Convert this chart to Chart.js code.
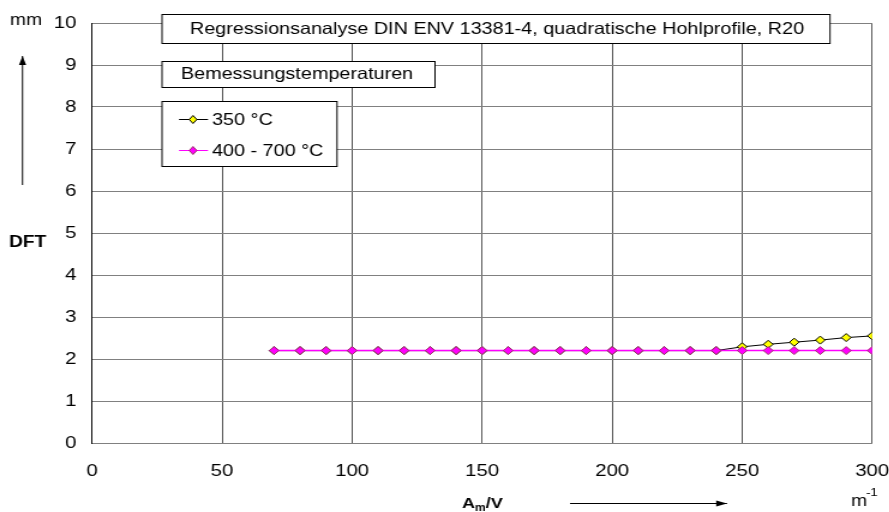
<!DOCTYPE html>
<html>
<head>
<meta charset="utf-8">
<script src="https://cdn.jsdelivr.net/npm/chart.js@4.4.1/dist/chart.umd.min.js"></script>
<style>
  html, body { margin: 0; padding: 0; background: #fff; overflow: hidden; }
  /* the original picture is stretched horizontally by about 1.2 */
  #wrap { width: 741px; height: 512px; position: relative; transform: scaleX(1.2); transform-origin: 0 0; }
</style>
</head>
<body>
<div id="wrap"><canvas id="dft"></canvas></div>
<script>
// Daten (A_m/V in 1/m, DFT in mm)
const amv = [70, 80, 90, 100, 110, 120, 130, 140, 150, 160, 170, 180, 190, 200, 210, 220, 230, 240, 250, 260, 270, 280, 290, 300];
const dft350 = [2.2, 2.2, 2.2, 2.2, 2.2, 2.2, 2.2, 2.2, 2.2, 2.2, 2.2, 2.2, 2.2, 2.2, 2.2, 2.2, 2.2, 2.2, 2.29, 2.35, 2.40, 2.45, 2.51, 2.55];
const dft400700 = [2.2, 2.2, 2.2, 2.2, 2.2, 2.2, 2.2, 2.2, 2.2, 2.2, 2.2, 2.2, 2.2, 2.2, 2.2, 2.2, 2.2, 2.2, 2.2, 2.2, 2.2, 2.2, 2.2, 2.2];
const seriesNames = ['350 °C', '400 - 700 °C'];
const titleText = 'Regressionsanalyse DIN ENV 13381-4, quadratische Hohlprofile, R20';
const subTitleText = 'Bemessungstemperaturen';

const FONT = 'Arial, "Liberation Sans", sans-serif';
const S = 1.2;               // horizontal stretch
const X = v => v / S;        // page x -> canvas x

function pts(ys) {
    return amv.map((x, i) => ({ x: x, y: ys[i] }));
}

// Beschriftungen, Kästen und Pfeile
const decor = {
    id: 'decor',
    afterDraw(chart) {
        const c = chart.ctx;
        c.save();
        c.font = '16.5px ' + FONT;
        c.textBaseline = 'middle';
        c.fillStyle = '#000';

        const box = (x1, y, x2, h) => {
            c.fillStyle = '#fff';
            c.fillRect(X(x1), y, X(x2) - X(x1), h);
            c.strokeStyle = '#000';
            c.lineWidth = 1;
            c.strokeRect(X(x1), y + 0.5, X(x2) - X(x1), h);
            c.fillStyle = '#000';
        };

        box(162, 14, 830, 29);
        c.textAlign = 'center';
        c.fillText(titleText, X(497), 29.5);

        box(162, 61, 435, 26);
        c.fillText(subTitleText, X(297), 74.5);

        box(162, 101, 337, 65);
        const legend = [
            { y: 119, line: '#000', fill: '#ffff00', stroke: '#000' },
            { y: 150, line: '#ff00ff', fill: '#ff00ff', stroke: '#993366' }
        ];
        legend.forEach((l, i) => {
            c.strokeStyle = l.line;
            c.lineWidth = 1;
            c.beginPath();
            c.moveTo(X(179), l.y + 0.5);
            c.lineTo(X(208), l.y + 0.5);
            c.stroke();
            const mx = X(193);
            c.beginPath();
            c.moveTo(mx, l.y - 3.5);
            c.lineTo(mx + 3.2, l.y + 0.5);
            c.lineTo(mx, l.y + 4.5);
            c.lineTo(mx - 3.2, l.y + 0.5);
            c.closePath();
            c.fillStyle = l.fill;
            c.fill();
            c.strokeStyle = l.stroke;
            c.stroke();
            c.fillStyle = '#000';
            c.textAlign = 'left';
            c.fillText(seriesNames[i], X(212), l.y + 1);
        });

        // y-Achse: Einheit, Pfeil, Name
        c.textAlign = 'left';
        c.font = '16px ' + FONT;
        c.fillText('mm', X(10), 21);
        c.font = 'bold 16px ' + FONT;
        c.fillText('DFT', X(9), 243);

        const arrow = (x1, y1, x2, y2) => {
            x1 = X(x1); x2 = X(x2);
            c.strokeStyle = '#000';
            c.lineWidth = 1;
            c.beginPath();
            c.moveTo(x1, y1);
            c.lineTo(x2, y2);
            c.stroke();
            const a = Math.atan2(y2 - y1, x2 - x1);
            c.beginPath();
            c.moveTo(x2, y2);
            c.lineTo(x2 - 9 * Math.cos(a) + 3 * Math.sin(a), y2 - 9 * Math.sin(a) - 3 * Math.cos(a));
            c.lineTo(x2 - 9 * Math.cos(a) - 3 * Math.sin(a), y2 - 9 * Math.sin(a) + 3 * Math.cos(a));
            c.closePath();
            c.fillStyle = '#000';
            c.fill();
        };
        arrow(22.5, 185, 22.5, 56);
        arrow(570, 503.5, 727, 503.5);

        // x-Achse: A_m/V und m^-1
        c.textBaseline = 'alphabetic';
        c.font = 'bold 15px ' + FONT;
        let x = X(462);
        c.fillText('A', x, 508);
        x += c.measureText('A').width;
        c.font = 'bold 10px ' + FONT;
        c.fillText('m', x, 511);
        x += c.measureText('m').width;
        c.font = 'bold 15px ' + FONT;
        c.fillText('/V', x, 508);

        c.font = '16px ' + FONT;
        c.fillText('m', X(851), 506);
        c.font = '11px ' + FONT;
        c.fillText('-1', X(866), 496);
        c.restore();
    }
};

new Chart(document.getElementById('dft'), {
    type: 'line',
    data: {
        datasets: [
            {
                label: seriesNames[1],
                data: pts(dft400700),
                borderColor: '#ff00ff',
                borderWidth: 1.5,
                pointStyle: 'rectRot',
                pointRadius: 4,
                pointBackgroundColor: '#ff00ff',
                pointBorderColor: '#993366',
                pointBorderWidth: 1,
                order: 0
            },
            {
                label: seriesNames[0],
                data: pts(dft350),
                borderColor: '#000',
                borderWidth: 1,
                pointStyle: 'rectRot',
                pointRadius: 4,
                pointBackgroundColor: '#ffff00',
                pointBorderColor: '#000',
                pointBorderWidth: 1,
                order: 1
            }
        ]
    },
    options: {
        responsive: true,
        maintainAspectRatio: false,
        animation: false,
        layout: { padding: { left: 0, right: X(17), top: 23, bottom: 0 } },
        plugins: { legend: { display: false }, tooltip: { enabled: false } },
        scales: {
            x: {
                type: 'linear',
                min: 0,
                max: 300,
                ticks: { stepSize: 50, color: '#000', font: { family: FONT, size: 17 }, padding: 18 },
                grid: { color: '#555', drawTicks: false },
                border: { color: '#808080', width: 1 },
                afterFit(s) {
                    s.height = 69;
                    s.paddingLeft = 0; s.paddingRight = 0;
                }
            },
            y: {
                min: 0,
                max: 10,
                ticks: { stepSize: 1, color: '#000', font: { family: FONT, size: 17 }, padding: 13 },
                grid: { color: '#808080', drawTicks: false },
                border: { color: '#000', width: 1 },
                afterFit(s) {
                    s.width = X(92);
                    s.paddingTop = 0; s.paddingBottom = 0;
                }
            }
        }
    },
    plugins: [decor]
});
</script>
</body>
</html>
